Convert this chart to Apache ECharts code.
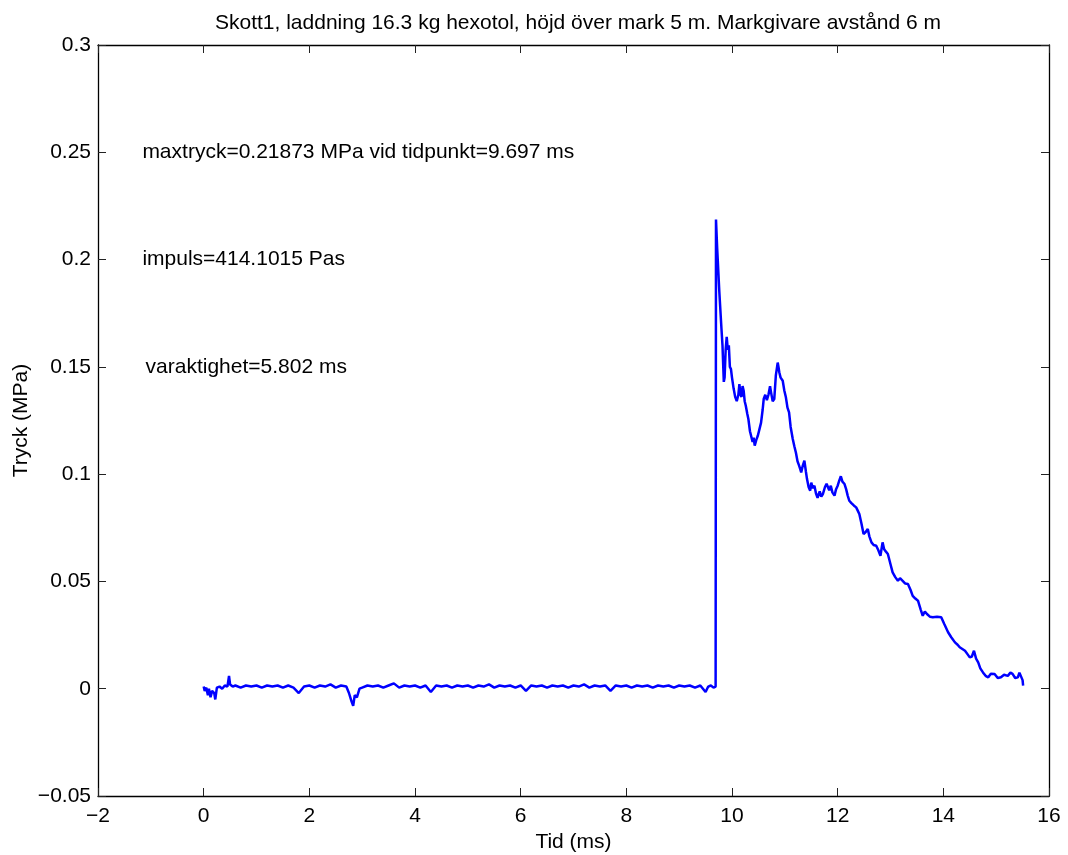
<!DOCTYPE html>
<html>
<head>
<meta charset="utf-8">
<script src="https://cdn.jsdelivr.net/npm/echarts@6/dist/echarts.min.js"></script>
<style>
html,body{margin:0;padding:0;background:#fff;}
#chart{width:1068px;height:855px;}
</style>
</head>
<body>
<div id="chart"></div>
<script>
const titleText = 'Skott1, laddning 16.3 kg hexotol, höjd över mark 5 m. Markgivare avstånd 6 m';
const xAxisName = 'Tid (ms)';
const yAxisName = 'Tryck (MPa)';
const xTicks = [-2, 0, 2, 4, 6, 8, 10, 12, 14, 16];
const yTicks = [-0.05, 0, 0.05, 0.1, 0.15, 0.2, 0.25, 0.3];

// Pressure trace before arrival (time ms, pressure MPa)
const baselineTrace = [
  [0.00,0.001],[0.02,-0.001],[0.05,0.0005],[0.08,-0.003],[0.10,0.0],[0.13,-0.004],[0.16,-0.001],
  [0.20,-0.002],[0.22,-0.005],[0.25,0.0005],[0.30,0.001],[0.35,0.0],[0.40,0.0015],[0.45,0.001],
  [0.48,0.006],[0.50,0.002],[0.55,0.001],[0.60,0.0015],[0.70,0.0005],[0.80,0.0015],[0.90,0.001],
  [1.00,0.0015],[1.10,0.0005],[1.20,0.0015],[1.30,0.001],[1.40,0.0015],[1.50,0.0005],[1.60,0.0015],
  [1.70,0.0005],[1.80,-0.002],[1.90,0.001],[2.00,0.0015],[2.10,0.0005],[2.20,0.0015],[2.30,0.001],
  [2.40,0.002],[2.50,0.0005],[2.60,0.0015],[2.70,0.001],[2.75,-0.002],[2.80,-0.006],[2.83,-0.008],
  [2.86,-0.003],[2.90,-0.004],[2.95,0.0],[3.00,0.0005],[3.10,0.0015],[3.20,0.001],[3.30,0.0015],
  [3.40,0.0005],[3.50,0.0015],[3.60,0.0025],[3.70,0.0005],[3.80,0.0015],[3.90,0.001],[4.00,0.0015],
  [4.10,0.0005],[4.20,0.0015],[4.30,-0.0015],[4.40,0.0015],[4.50,0.001],[4.60,0.0015],[4.70,0.0005],
  [4.80,0.0015],[4.90,0.001],[5.00,0.0015],[5.10,0.0005],[5.20,0.0015],[5.30,0.001],[5.40,0.002],
  [5.50,0.0005],[5.60,0.0015],[5.70,0.001],[5.80,0.0015],[5.90,0.0005],[6.00,0.0015],[6.10,-0.001],
  [6.20,0.0015],[6.30,0.001],[6.40,0.0015],[6.50,0.0005],[6.60,0.0015],[6.70,0.001],[6.80,0.0015],
  [6.90,0.0005],[7.00,0.0015],[7.10,0.001],[7.20,0.002],[7.30,0.0005],[7.40,0.0015],[7.50,0.001],
  [7.60,0.0015],[7.70,-0.001],[7.80,0.0015],[7.90,0.001],[8.00,0.0015],[8.10,0.0005],[8.20,0.0015],
  [8.30,0.001],[8.40,0.0015],[8.50,0.0005],[8.60,0.0015],[8.70,0.001],[8.80,0.0015],[8.90,0.0005],
  [9.00,0.0015],[9.10,0.001],[9.20,0.0015],[9.30,0.0005],[9.40,0.0015],[9.50,-0.0015],[9.55,0.001],
  [9.60,0.0015],[9.65,0.0005],[9.69,0.001]
];

// Pressure trace after shock arrival
const blastTrace = [
  [9.697,0.2187],[9.72,0.205],[9.76,0.185],[9.80,0.168],[9.82,0.16],[9.845,0.143],[9.86,0.145],
  [9.88,0.158],[9.90,0.164],[9.92,0.158],[9.94,0.16],[9.96,0.15],[9.98,0.149],[10.00,0.145],
  [10.03,0.14],[10.06,0.136],[10.09,0.134],[10.12,0.137],[10.14,0.142],[10.16,0.137],[10.18,0.136],
  [10.20,0.141],[10.22,0.139],[10.24,0.134],[10.26,0.132],[10.29,0.128],[10.31,0.1257],[10.34,0.12],
  [10.36,0.118],[10.39,0.115],[10.41,0.117],[10.43,0.1133],[10.46,0.116],[10.49,0.118],[10.52,0.121],
  [10.55,0.124],[10.58,0.13],[10.60,0.135],[10.63,0.137],[10.66,0.1345],[10.69,0.137],[10.72,0.141],
  [10.74,0.138],[10.77,0.134],[10.80,0.135],[10.83,0.146],[10.865,0.152],[10.88,0.15],[10.895,0.1475],
  [10.92,0.145],[10.96,0.1435],[10.99,0.139],[11.02,0.1358],[11.05,0.131],[11.08,0.1288],[11.11,0.122],
  [11.15,0.1164],[11.18,0.113],[11.21,0.110],[11.24,0.106],[11.27,0.104],[11.29,0.1025],[11.31,0.1008],
  [11.34,0.104],[11.37,0.1063],[11.40,0.101],[11.42,0.0977],[11.45,0.094],[11.48,0.0923],[11.50,0.096],
  [11.53,0.0935],[11.56,0.0946],[11.59,0.091],[11.62,0.089],[11.66,0.092],[11.69,0.0895],[11.72,0.0907],
  [11.76,0.094],[11.79,0.0955],[11.81,0.0946],[11.84,0.0925],[11.87,0.0946],[11.90,0.0915],[11.94,0.090],
  [11.97,0.093],[12.00,0.0946],[12.03,0.097],[12.06,0.099],[12.09,0.0965],[12.13,0.0954],[12.16,0.093],
  [12.19,0.09],[12.22,0.0876],[12.26,0.0865],[12.31,0.0853],[12.35,0.0845],[12.38,0.083],[12.41,0.0814],
  [12.45,0.077],[12.49,0.0721],[12.53,0.073],[12.57,0.0744],[12.60,0.071],[12.64,0.0682],[12.68,0.067],
  [12.73,0.0666],[12.77,0.0645],[12.81,0.062],[12.85,0.0682],[12.88,0.065],[12.91,0.064],[12.95,0.0628],
  [13.00,0.058],[13.04,0.0542],[13.09,0.052],[13.14,0.0503],[13.18,0.0515],[13.23,0.0503],[13.28,0.049],
  [13.33,0.0488],[13.38,0.046],[13.42,0.0433],[13.47,0.042],[13.52,0.041],[13.57,0.037],[13.61,0.034],
  [13.65,0.036],[13.69,0.0348],[13.75,0.0335],[13.80,0.0333],[13.88,0.0335],[13.96,0.0333],[14.02,0.03],
  [14.09,0.0263],[14.15,0.024],[14.22,0.0216],[14.27,0.0205],[14.31,0.0193],[14.36,0.0185],[14.41,0.0177],
  [14.46,0.016],[14.50,0.0146],[14.54,0.015],[14.58,0.0177],[14.62,0.014],[14.66,0.0123],[14.70,0.0095],
  [14.75,0.0076],[14.80,0.006],[14.85,0.0053],[14.90,0.007],[14.97,0.0069],[15.03,0.005],[15.09,0.0053],
  [15.15,0.0065],[15.22,0.006],[15.27,0.0075],[15.31,0.0069],[15.36,0.005],[15.41,0.0053],[15.44,0.0075],
  [15.47,0.0069],[15.50,0.004],[15.51,0.0014]
];

// Text annotations placed in data coordinates
const annotationTexts = [
  'maxtryck=0.21873 MPa vid tidpunkt=9.697 ms',
  'impuls=414.1015 Pas',
  'varaktighet=5.802 ms'
];
const annotationPositions = [[-1.16, 0.25], [-1.16, 0.2], [-1.1, 0.15]];

const FONT = '"Liberation Sans", Arial, Helvetica, sans-serif';
const FS = 21;
const fmt = v => {
  const r = Math.round(v * 1000) / 1000;
  return String(r).replace('-', '\u2212');
};

const chart = echarts.init(document.getElementById('chart'), null, {renderer: 'canvas'});

const tickStyle = {show: true, inside: true, length: 8, lineStyle: {color: '#222', width: 1}};
const lineStyleAx = {show: true, onZero: false, lineStyle: {color: '#000', width: 1.3}};

const option = {
  backgroundColor: '#fff',
  animation: false,
  textStyle: {fontFamily: FONT},
  title: {
    text: titleText,
    left: 573, textAlign: 'center',
    top: 8,
    textStyle: {fontFamily: FONT, fontSize: FS, fontWeight: 'normal', color: '#000'}
  },
  grid: {left: 98, right: 19, top: 45, bottom: 59, containLabel: false, outerBoundsMode: 'none'},
  xAxis: [{
    type: 'value', position: 'bottom',
    min: xTicks[0], max: xTicks[xTicks.length - 1], interval: 2,
    axisLine: lineStyleAx, axisTick: tickStyle, splitLine: {show: false},
    axisLabel: {formatter: fmt, color: '#000', fontSize: FS, fontFamily: FONT, margin: 10},
    name: xAxisName, nameLocation: 'middle', nameGap: 35,
    nameTextStyle: {color: '#000', fontSize: FS, fontFamily: FONT}
  }, {
    type: 'value', position: 'top',
    min: xTicks[0], max: xTicks[xTicks.length - 1], interval: 2,
    axisLine: lineStyleAx, axisTick: tickStyle, splitLine: {show: false},
    axisLabel: {show: false}
  }],
  yAxis: [{
    type: 'value', position: 'left',
    min: yTicks[0], max: yTicks[yTicks.length - 1], interval: 0.05,
    axisLine: lineStyleAx, axisTick: tickStyle, splitLine: {show: false},
    axisLabel: {formatter: fmt, color: '#000', fontSize: FS, fontFamily: FONT, margin: 7},
    name: yAxisName, nameLocation: 'middle', nameGap: 66, nameRotate: 90,
    nameMoveOverlap: false,
    nameTextStyle: {color: '#000', fontSize: FS, fontFamily: FONT}
  }, {
    type: 'value', position: 'right',
    min: yTicks[0], max: yTicks[yTicks.length - 1], interval: 0.05,
    axisLine: lineStyleAx, axisTick: tickStyle, splitLine: {show: false},
    axisLabel: {show: false}
  }],
  series: [{
    type: 'line',
    data: baselineTrace.concat(blastTrace),
    showSymbol: false, symbol: 'none',
    lineStyle: {color: '#0000ff', width: 2.5},
    clip: true
  }, {
    type: 'scatter',
    data: annotationPositions.map((p, i) => ({value: p, name: annotationTexts[i]})),
    symbolSize: 0,
    silent: true,
    itemStyle: {opacity: 1},
    label: {
      show: true, position: 'right', distance: 0,
      formatter: p => p.name,
      color: '#000', opacity: 1, fontSize: FS, fontFamily: FONT
    }
  }]
};
chart.setOption(option);
</script>
</body>
</html>
